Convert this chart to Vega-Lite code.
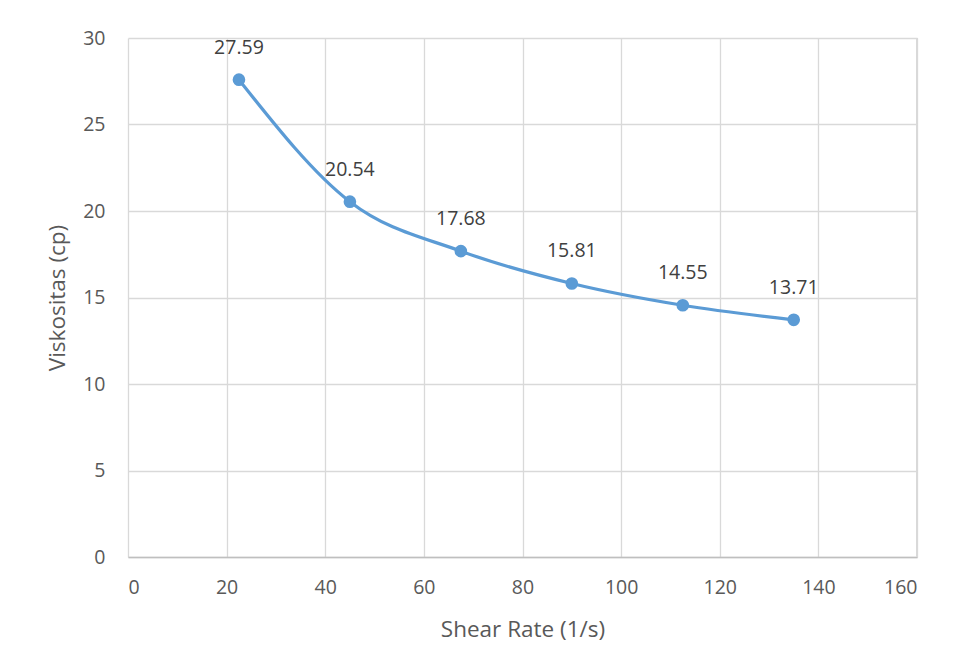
{
  "$schema": "https://vega.github.io/schema/vega-lite/v6.json",
  "autosize": "none",
  "width": 789,
  "height": 519,
  "padding": {"left": 128, "top": 38, "right": 39, "bottom": 114},
  "background": "white",
  "config": {
    "font": "Open Sans",
    "view": {"stroke": null},
    "axis": {
      "labelFont": "Open Sans", "labelFontSize": 19.5, "labelColor": "#595959",
      "titleFont": "Open Sans", "titleFontSize": 22.5, "titleColor": "#595959", "titleFontWeight": "normal",
      "gridColor": "#d9d9d9", "gridWidth": 1.3, "ticks": false
    }
  },
  "data": {"values": [
    {"shear": 22.5, "visc": 27.59},
    {"shear": 45, "visc": 20.54},
    {"shear": 67.5, "visc": 17.68},
    {"shear": 90, "visc": 15.81},
    {"shear": 112.5, "visc": 14.55},
    {"shear": 135, "visc": 13.71}
  ]},
  "encoding": {
    "x": {"field": "shear", "type": "quantitative",
      "scale": {"domain": [0, 160], "nice": false},
      "axis": {"values": [0,20,40,60,80,100,120,140,160], "title": "Shear Rate (1/s)", "labelPadding": 21, "titlePadding": 22, "domainColor": "#bfbfbf", "domainWidth": 1.5}},
    "y": {"field": "visc", "type": "quantitative",
      "scale": {"domain": [0, 30], "nice": false},
      "axis": {"values": [0,5,10,15,20,25,30], "title": "Viskositas (cp)", "labelPadding": 23, "titlePadding": 13, "domain": false}}
  },
  "layer": [
    {"mark": {"type": "rule", "color": "#d9d9d9", "strokeWidth": 1.3}, "encoding": {"x": {"datum": 160}, "y": {"datum": 0}, "y2": {"datum": 30}}},
    {"mark": {"type": "line", "interpolate": "monotone", "color": "#5B9BD5", "strokeWidth": 3.2}},
    {"mark": {"type": "point", "filled": true, "opacity": 1, "color": "#5B9BD5", "size": 160}},
    {"mark": {"type": "text", "dy": -32, "fontSize": 19.5, "color": "#404040", "font": "Open Sans"}, "encoding": {"text": {"field": "visc", "type": "quantitative", "format": ".2f"}}}
  ]
}
